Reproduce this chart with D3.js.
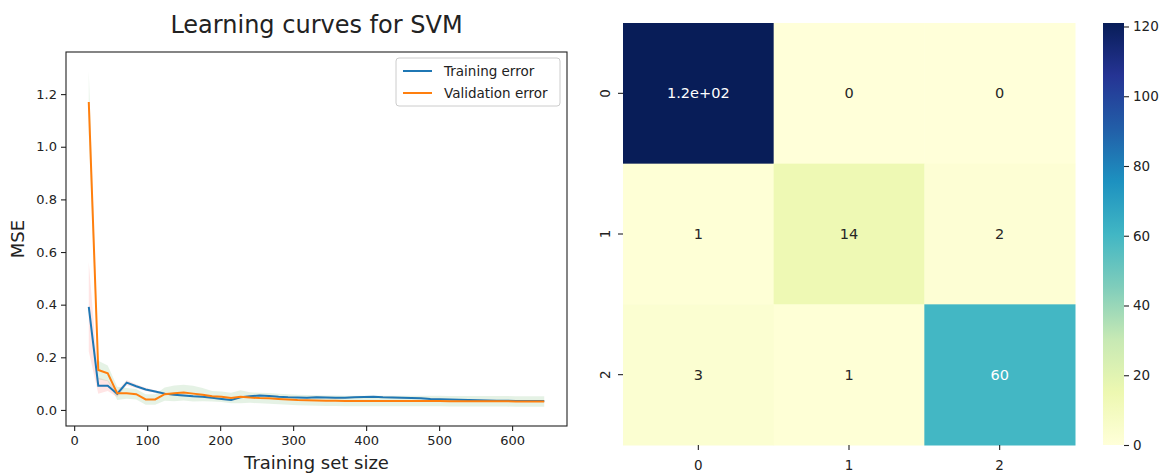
<!DOCTYPE html>
<html>
<head>
<meta charset="utf-8">
<script src="https://cdn.jsdelivr.net/npm/d3@7"></script>
<style>
  body { margin: 0; background: #fff; }
  text { font-family: "DejaVu Sans", sans-serif; fill: #222; }
</style>
</head>
<body>
<div id="chart"></div>
<script>
// learning curve data
const trainSizes = [20, 33, 46, 59, 72, 85, 98, 111, 124, 137, 150, 163, 176, 189, 202, 215, 228, 241, 254, 267,
  280, 293, 306, 319, 332, 345, 358, 371, 384, 397, 410, 423, 436, 449, 462, 475, 488, 501, 514, 527,
  540, 553, 566, 579, 592, 605, 618, 631, 644]
const trainErr = [0.392, 0.092, 0.092, 0.061, 0.104, 0.09, 0.078, 0.07, 0.062, 0.058, 0.055, 0.052, 0.05, 0.046, 0.042, 0.038, 0.048, 0.052, 0.055, 0.053,
  0.05, 0.048, 0.047, 0.046, 0.048, 0.047, 0.046, 0.046, 0.048, 0.049, 0.05, 0.048, 0.047, 0.046, 0.045, 0.044, 0.042, 0.041, 0.04, 0.039,
  0.038, 0.037, 0.036, 0.035, 0.035, 0.034, 0.034, 0.034, 0.034]
const trainStd = [0.17, 0.03, 0.02, 0.012, 0.01, 0.008, 0.006, 0.005, 0.005, 0.004, 0.004, 0.004, 0.004, 0.003, 0.003, 0.003, 0.003, 0.003, 0.003, 0.003,
  0.003, 0.003, 0.003, 0.003, 0.003, 0.003, 0.003, 0.003, 0.003, 0.003, 0.003, 0.003, 0.003, 0.003, 0.003, 0.003, 0.003, 0.003, 0.003, 0.003,
  0.003, 0.003, 0.003, 0.003, 0.003, 0.003, 0.003, 0.003, 0.003]
const valErr = [1.17, 0.152, 0.139, 0.063, 0.063, 0.06, 0.04, 0.04, 0.06, 0.063, 0.066, 0.062, 0.058, 0.052, 0.05, 0.045, 0.05, 0.047, 0.045, 0.044,
  0.042, 0.04, 0.038, 0.037, 0.036, 0.035, 0.035, 0.034, 0.034, 0.034, 0.034, 0.034, 0.034, 0.034, 0.034, 0.034, 0.034, 0.034, 0.033, 0.033,
  0.033, 0.033, 0.033, 0.033, 0.033, 0.032, 0.032, 0.032, 0.032]
const valStd = [0.12, 0.035, 0.03, 0.025, 0.02, 0.02, 0.02, 0.02, 0.025, 0.03, 0.03, 0.03, 0.025, 0.02, 0.02, 0.02, 0.025, 0.02, 0.02, 0.02,
  0.02, 0.02, 0.02, 0.02, 0.02, 0.02, 0.02, 0.02, 0.02, 0.02, 0.02, 0.02, 0.02, 0.02, 0.02, 0.02, 0.02, 0.02, 0.02, 0.02,
  0.02, 0.02, 0.02, 0.02, 0.02, 0.02, 0.02, 0.02, 0.02]
const xTicks = [0, 100, 200, 300, 400, 500, 600]
const yTicks = [0, 0.2, 0.4, 0.6, 0.8, 1.0, 1.2]

// confusion matrix
const classes = ["0", "1", "2"]
const matrix = [
  [121, 0, 0],
  [1, 14, 2],
  [3, 1, 60]
]
const cbarTicks = [0, 20, 40, 60, 80, 100, 120]

const W = 1168, H = 473
const svg = d3.select("#chart").append("svg")
  .attr("width", W).attr("height", H)

svg.append("rect").attr("width", W).attr("height", H).attr("fill", "#fff")

// ---------- left: learning curves ----------
const L = { left: 66, right: 567, top: 52, bottom: 426 }

const x = d3.scaleLinear().domain([-11.2, 675.2]).range([L.left, L.right])
const y = d3.scaleLinear().domain([-0.061, 1.36]).range([L.bottom, L.top])

const rows = trainSizes.map((s, i) => ({
  s, tr: trainErr[i], trs: trainStd[i], va: valErr[i], vas: valStd[i]
}))

const plot = svg.append("g")

const clip = svg.append("clipPath").attr("id", "clipL")
clip.append("rect").attr("x", L.left).attr("y", L.top)
  .attr("width", L.right - L.left).attr("height", L.bottom - L.top)

const inner = plot.append("g").attr("clip-path", "url(#clipL)")

inner.append("path")
  .datum(rows)
  .attr("fill", "red").attr("fill-opacity", 0.1)
  .attr("d", d3.area().x(d => x(d.s)).y0(d => y(d.tr - d.trs)).y1(d => y(d.tr + d.trs)))

inner.append("path")
  .datum(rows)
  .attr("fill", "green").attr("fill-opacity", 0.1)
  .attr("d", d3.area().x(d => x(d.s)).y0(d => y(d.va - d.vas)).y1(d => y(d.va + d.vas)))

inner.append("path")
  .datum(rows)
  .attr("fill", "none").attr("stroke", "#1f77b4").attr("stroke-width", 2)
  .attr("d", d3.line().x(d => x(d.s)).y(d => y(d.tr)))

inner.append("path")
  .datum(rows)
  .attr("fill", "none").attr("stroke", "#ff7f0e").attr("stroke-width", 2)
  .attr("d", d3.line().x(d => x(d.s)).y(d => y(d.va)))

// axes
const xAxis = plot.append("g")
  .attr("transform", `translate(0,${L.bottom})`)
  .call(d3.axisBottom(x).tickValues(xTicks).tickSize(5).tickPadding(5).tickFormat(d3.format("d")))
const yAxis = plot.append("g")
  .attr("transform", `translate(${L.left},0)`)
  .call(d3.axisLeft(y).tickValues(yTicks).tickSize(5).tickPadding(4).tickFormat(d3.format(".1f")))

;[xAxis, yAxis].forEach(a => {
  a.select(".domain").remove()
  a.selectAll("line").attr("stroke", "#222").attr("stroke-width", 1.1)
  a.selectAll("text").attr("font-size", 13).attr("fill", "#222")
})

plot.append("rect")
  .attr("x", L.left).attr("y", L.top)
  .attr("width", L.right - L.left).attr("height", L.bottom - L.top)
  .attr("fill", "none").attr("stroke", "#222").attr("stroke-width", 1.1)

plot.append("text")
  .attr("x", (L.left + L.right) / 2).attr("y", 33)
  .attr("text-anchor", "middle").attr("font-size", 24)
  .text("Learning curves for SVM")

plot.append("text")
  .attr("x", (L.left + L.right) / 2).attr("y", 469)
  .attr("text-anchor", "middle").attr("font-size", 18)
  .text("Training set size")

plot.append("text")
  .attr("transform", `translate(24,${(L.top + L.bottom) / 2}) rotate(-90)`)
  .attr("text-anchor", "middle").attr("font-size", 18)
  .text("MSE")

// legend
const leg = plot.append("g").attr("transform", "translate(396,58)")
leg.append("rect")
  .attr("width", 164).attr("height", 48).attr("rx", 3)
  .attr("fill", "#fff").attr("fill-opacity", 0.8)
  .attr("stroke", "#ccc")
const legItems = [["Training error", "#1f77b4"], ["Validation error", "#ff7f0e"]]
legItems.forEach(([name, c], i) => {
  const ly = 13 + i * 22
  leg.append("line").attr("x1", 7).attr("x2", 36).attr("y1", ly).attr("y2", ly)
    .attr("stroke", c).attr("stroke-width", 2)
  leg.append("text").attr("x", 48).attr("y", ly + 5).attr("font-size", 13.5).text(name)
})

// ---------- right: confusion matrix heatmap ----------
const R = { left: 623, right: 1075, top: 23, bottom: 445 }
const vmax = d3.max(matrix.flat())

const color = d3.scaleLinear()
  .domain(d3.range(9).map(i => vmax * i / 8))
  .range(d3.schemeYlGnBu[9])
  .clamp(true)

const cx = d3.scaleBand().domain(classes).range([R.left, R.right])
const cy = d3.scaleBand().domain(classes).range([R.top, R.bottom])

const cells = matrix.flatMap((r, i) => r.map((v, j) => ({ row: classes[i], col: classes[j], v })))

const hm = svg.append("g")
hm.selectAll("rect.cell")
  .data(cells)
  .join("rect")
  .attr("class", "cell")
  .attr("x", d => cx(d.col)).attr("y", d => cy(d.row))
  .attr("width", cx.bandwidth() + 0.5).attr("height", cy.bandwidth() + 0.5)
  .attr("fill", d => color(d.v))

function lum(c) {
  const rgb = d3.rgb(c)
  const f = v => { v /= 255; return v <= 0.03928 ? v / 12.92 : Math.pow((v + 0.055) / 1.055, 2.4) }
  return 0.2126 * f(rgb.r) + 0.7152 * f(rgb.g) + 0.0722 * f(rgb.b)
}
function fmt(v) {
  let s = v.toPrecision(2)
  if (s.includes("e")) s = s.replace(/e([+-])(\d)$/, "e$10$2")
  else s = String(+s)
  return s
}

hm.selectAll("text.annot")
  .data(cells)
  .join("text")
  .attr("class", "annot")
  .attr("x", d => cx(d.col) + cx.bandwidth() / 2)
  .attr("y", d => cy(d.row) + cy.bandwidth() / 2)
  .attr("text-anchor", "middle").attr("dominant-baseline", "central")
  .attr("font-size", 14.5)
  .style("fill", d => lum(color(d.v)) > 0.408 ? "#262626" : "#fff")
  .text(d => fmt(d.v))

const hx = hm.append("g").attr("transform", `translate(0,${R.bottom})`)
  .call(d3.axisBottom(cx).tickSize(5).tickPadding(10))
const hy = hm.append("g").attr("transform", `translate(${R.left},0)`)
  .call(d3.axisLeft(cy).tickSize(5).tickPadding(8))
;[hx, hy].forEach(a => {
  a.select(".domain").remove()
  a.selectAll("line").attr("stroke", "#222").attr("stroke-width", 1.1)
  a.selectAll("text").attr("font-size", 13.5).attr("fill", "#222")
})
hy.selectAll(".tick text")
  .attr("text-anchor", "middle")
  .attr("dy", null)
  .attr("dominant-baseline", "central")
  .attr("transform", "translate(-18,0) rotate(-90)")
  .attr("x", 0)

// colorbar
const CB = { left: 1103, width: 21, top: 23, bottom: 445 }
const cb = d3.scaleLinear().domain([0, vmax]).range([CB.bottom, CB.top])

const grad = svg.append("defs").append("linearGradient")
  .attr("id", "cbGrad").attr("x1", 0).attr("y1", 1).attr("x2", 0).attr("y2", 0)
grad.selectAll("stop")
  .data(d3.range(0, 1.0001, 0.125))
  .join("stop")
  .attr("offset", d => d)
  .attr("stop-color", d => color(d * vmax))

svg.append("rect")
  .attr("x", CB.left).attr("y", CB.top)
  .attr("width", CB.width).attr("height", CB.bottom - CB.top)
  .attr("fill", "url(#cbGrad)")

const cbAxis = svg.append("g").attr("transform", `translate(${CB.left + CB.width},0)`)
  .call(d3.axisRight(cb).tickValues(cbarTicks).tickSize(5).tickPadding(4))
cbAxis.select(".domain").remove()
cbAxis.selectAll("line").attr("stroke", "#222").attr("stroke-width", 1.1)
cbAxis.selectAll("text").attr("font-size", 13.5).attr("fill", "#222")
</script>
</body>
</html>
